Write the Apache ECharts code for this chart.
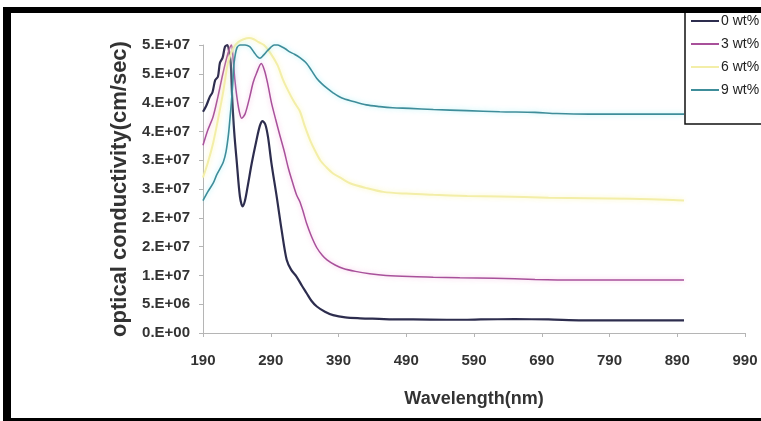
<!DOCTYPE html>
<html>
<head>
<meta charset="utf-8">
<title>optical conductivity</title>
<script src="https://cdn.jsdelivr.net/npm/echarts@6/dist/echarts.min.js"></script>
<style>
    html, body {margin: 0; padding: 0; background: #fff;}
    #main {width: 761px; height: 421px;}
</style>
</head>
<body>
<div id="main"></div>
<script>
// 刻度
let xTicks = [190, 290, 390, 490, 590, 690, 790, 890, 990];
let yTickLabels = ['0.E+00', '5.E+06', '1.E+07', '2.E+07', '2.E+07', '3.E+07', '3.E+07', '4.E+07', '4.E+07', '5.E+07', '5.E+07'];
let seriesNames = ['0 wt%', '3 wt%', '6 wt%', '9 wt%'];

// 0 wt%
let wl_0 = [190, 195, 200, 204, 208, 212, 215, 219, 222.5, 226, 229, 231, 233, 236, 240, 244.5, 248.5, 252, 256, 262, 269, 274, 278, 282, 286, 291, 299, 306, 313.5, 320, 328, 336, 343, 350, 358, 370, 382, 400, 422, 450, 470, 500, 550, 580, 600, 650, 700, 750, 800, 850, 900];
let oc_0 = [3.84e7, 3.95e7, 4.10e7, 4.18e7, 4.39e7, 4.45e7, 4.69e7, 4.78e7, 4.97e7, 5.0e7, 4.85e7, 4.69e7, 4.1e7, 3.5e7, 2.95e7, 2.37e7, 2.2e7, 2.3e7, 2.55e7, 2.95e7, 3.35e7, 3.6e7, 3.68e7, 3.62e7, 3.4e7, 2.95e7, 2.35e7, 1.79e7, 1.27e7, 1.1e7, 0.98e7, 0.82e7, 0.69e7, 0.56e7, 0.46e7, 0.37e7, 0.31e7, 0.27e7, 0.255e7, 0.245e7, 0.237e7, 0.235e7, 0.23e7, 0.23e7, 0.235e7, 0.24e7, 0.235e7, 0.22e7, 0.22e7, 0.22e7, 0.22e7];

// 3 wt%
let wl_3 = [190, 197, 205, 212, 219.5, 227, 232, 234.5, 237, 240, 243.5, 247, 252, 259, 264, 269, 276, 281, 286, 291, 297, 303, 310, 316, 322, 328, 333, 338, 343, 350, 358, 366, 373, 385, 397, 415, 436, 460, 495, 530, 569, 620, 680, 736, 800, 850, 900];
let oc_3 = [3.26e7, 3.52e7, 3.76e7, 4.1e7, 4.51e7, 4.86e7, 5.0e7, 4.75e7, 4.4e7, 4.1e7, 3.85e7, 3.73e7, 3.8e7, 4.1e7, 4.35e7, 4.51e7, 4.68e7, 4.55e7, 4.3e7, 4.0e7, 3.72e7, 3.45e7, 3.15e7, 2.86e7, 2.62e7, 2.40e7, 2.28e7, 2.1e7, 1.9e7, 1.68e7, 1.48e7, 1.35e7, 1.27e7, 1.18e7, 1.12e7, 1.07e7, 1.03e7, 1.0e7, 0.98e7, 0.97e7, 0.96e7, 0.95e7, 0.93e7, 0.92e7, 0.92e7, 0.92e7, 0.92e7];

// 6 wt%
let wl_6 = [190, 197, 205, 212, 220, 227, 235, 242, 250, 258, 265, 272, 280, 290, 300, 308, 316, 325, 333, 340, 348, 356, 363, 372, 382, 395, 407, 430, 456, 490, 530, 580, 628, 700, 760, 820, 884, 900];
let oc_6 = [2.7e7, 2.95e7, 3.3e7, 3.7e7, 4.2e7, 4.7e7, 4.95e7, 5.05e7, 5.1e7, 5.12e7, 5.1e7, 5.05e7, 5.0e7, 4.85e7, 4.65e7, 4.4e7, 4.2e7, 4.0e7, 3.85e7, 3.6e7, 3.35e7, 3.15e7, 3.0e7, 2.88e7, 2.77e7, 2.68e7, 2.6e7, 2.52e7, 2.45e7, 2.42e7, 2.4e7, 2.38e7, 2.37e7, 2.35e7, 2.34e7, 2.33e7, 2.31e7, 2.3e7];

// 9 wt%
let wl_9 = [190, 197, 205, 210, 215, 220, 224, 227.5, 230, 232, 234, 236, 240, 245, 252, 259, 265, 270, 274, 279, 285, 290, 295, 300, 306, 312, 318, 325, 333, 343, 350, 358, 366, 373, 382, 395, 412, 431, 451, 470, 495, 530, 579, 628, 680, 712, 760, 805, 850, 900];
let oc_9 = [2.3e7, 2.45e7, 2.6e7, 2.74e7, 2.85e7, 2.97e7, 3.15e7, 3.44e7, 3.75e7, 4.02e7, 4.35e7, 4.7e7, 4.95e7, 5.0e7, 5.0e7, 4.97e7, 4.88e7, 4.8e7, 4.77e7, 4.82e7, 4.9e7, 4.96e7, 5.0e7, 5.0e7, 4.97e7, 4.93e7, 4.88e7, 4.84e7, 4.78e7, 4.68e7, 4.56e7, 4.42e7, 4.32e7, 4.25e7, 4.17e7, 4.08e7, 4.02e7, 3.96e7, 3.93e7, 3.91e7, 3.9e7, 3.88e7, 3.86e7, 3.84e7, 3.83e7, 3.81e7, 3.8e7, 3.8e7, 3.8e7, 3.8e7];

let lineColors = ['#2d2d4e', '#a8509a', '#f3eea8', '#3e8d9a'];
let glowColors = ['rgba(0,0,0,0)', 'rgba(240,150,210,0.6)', 'rgba(250,245,170,0.8)', 'rgba(140,235,245,0.7)'];
let lineWidths = [2.2, 1.5, 2, 1.6];

let labelFont = "'Liberation Sans', Arial, sans-serif";

function make_pairs(xs, ys) {
    let pairs = [];
    for (let i = 0; i < xs.length; i++) {
        pairs.push([xs[i], ys[i]]);
    }
    return pairs;
}

function make_series(index, xs, ys) {
    return {
        name: seriesNames[index],
        type: 'line',
        data: make_pairs(xs, ys),
        showSymbol: false,
        smooth: 0.3,
        clip: false,
        z: 2 + index,
        lineStyle: {
            color: lineColors[index],
            width: lineWidths[index],
            shadowColor: glowColors[index],
            shadowBlur: index === 0 ? 0 : 5
        },
        itemStyle: {color: lineColors[index]}
    };
}

let chart = echarts.init(document.getElementById('main'));

let option = {
    backgroundColor: '#fff',
    animation: false,
    grid: {left: 203, right: 16, top: 45, bottom: 88},
    legend: {
        orient: 'vertical',
        left: 686,
        top: 9,
        padding: 5,
        itemGap: 9,
        itemWidth: 28,
        itemHeight: 2,
        icon: 'rect',
        z: 20,
        textStyle: {fontSize: 14, color: '#222', fontFamily: labelFont, padding: [0, 0, 0, -3]},
        data: seriesNames
    },
    xAxis: {
        type: 'value',
        min: 190,
        max: 990,
        name: 'Wavelength(nm)',
        nameLocation: 'middle',
        nameGap: 57,
        nameTextStyle: {fontSize: 18, fontWeight: 'bold', color: '#333', fontFamily: labelFont},
        splitLine: {show: false},
        axisLine: {lineStyle: {color: '#b5b5b5', width: 1}},
        axisTick: {length: 4, customValues: xTicks, lineStyle: {color: '#b5b5b5'}},
        axisLabel: {
            customValues: xTicks,
            margin: 20,
            fontSize: 15,
            fontWeight: 'bold',
            color: '#333',
            fontFamily: labelFont
        }
    },
    yAxis: {
        type: 'value',
        min: 0,
        max: 5e7,
        interval: 5e6,
        name: 'optical conductivity(cm/sec)',
        nameLocation: 'middle',
        nameGap: 54,
        nameTextStyle: {fontSize: 22, fontWeight: 'bold', color: '#333', fontFamily: labelFont},
        splitLine: {show: false},
        axisLine: {show: true, lineStyle: {color: '#b5b5b5', width: 1}},
        axisTick: {show: true, length: 4, lineStyle: {color: '#b5b5b5'}},
        axisLabel: {
            margin: 13,
            fontSize: 15,
            fontWeight: 'bold',
            color: '#333',
            fontFamily: labelFont,
            formatter: function (value) {
                return yTickLabels[Math.round(value / 5e6)];
            }
        }
    },
    series: [
        make_series(0, wl_0, oc_0),
        make_series(1, wl_3, oc_3),
        make_series(2, wl_6, oc_6),
        make_series(3, wl_9, oc_9)
    ],
    graphic: [
        // 图例的框，右边超出画面
        {type: 'rect', z: 10, shape: {x: 685, y: 8, width: 120, height: 116}, style: {fill: '#fff', stroke: '#111', lineWidth: 1.5}},
        // 黑色边框
        {type: 'rect', z: 100, shape: {x: 3, y: 7, width: 758, height: 6}, style: {fill: '#000'}},
        {type: 'rect', z: 100, shape: {x: 3, y: 7, width: 8, height: 414}, style: {fill: '#000'}},
        {type: 'rect', z: 100, shape: {x: 3, y: 418, width: 758, height: 3}, style: {fill: '#000'}}
    ]
};

chart.setOption(option);
</script>
</body>
</html>
